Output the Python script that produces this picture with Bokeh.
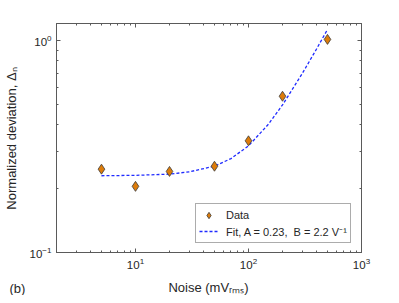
import math
from bokeh.plotting import figure
from bokeh.models import (FixedTicker, LogAxis, Label, Legend, LegendItem,
                          ColumnDataSource, Range1d)
from bokeh.embed import file_html
from bokeh.resources import INLINE

# ---- data ----
noise_mv = [5, 10, 20, 50, 100, 200, 500]
deviation = [0.247, 0.205, 0.241, 0.255, 0.336, 0.545, 1.01]

fit_noise_mv = [5, 10, 20, 30, 50, 70, 100, 150, 200, 300, 400, 500]
fit_deviation = [0.230, 0.231, 0.234, 0.240, 0.255, 0.277, 0.318, 0.402,
                 0.496, 0.699, 0.910, 1.124]

x_major = [10, 100, 1000]
x_minor = [2, 3, 4, 5, 6, 7, 8, 9, 20, 30, 40, 50, 60, 70, 80, 90,
           200, 300, 400, 500, 600, 700, 800, 900]
y_major = [0.1, 1]
y_minor = [0.2, 0.3, 0.4, 0.5, 0.6, 0.7, 0.8, 0.9]

x_label = "Noise (mVᵣₘₛ)"
y_label = "Normalized deviation, Δₙ"
panel_tag = "(b)"
legend_data = "Data"
legend_fit = "Fit, A = 0.23,  B = 2.2 V⁻¹"

FONT = "Liberation Sans"
AX = "#5a5a5a"
TXT = "#262626"

W, H = 391, 295
p = figure(width=W, height=H, x_axis_type="log", y_axis_type="log",
           x_range=Range1d(2, 1000), y_range=Range1d(0.1, 1.2),
           output_backend="svg", toolbar_location=None,
           min_border_left=56, min_border_right=30,
           min_border_top=23, min_border_bottom=43)
p.grid.visible = False
p.outline_line_color = AX
p.background_fill_color = "white"
p.border_fill_color = "white"


def style_axis(ax, show_labels=True):
    ax.axis_line_color = AX
    ax.major_tick_line_color = AX
    ax.minor_tick_line_color = AX
    ax.major_tick_in = 4
    ax.major_tick_out = 0
    ax.minor_tick_in = 2
    ax.minor_tick_out = 0
    ax.major_label_text_font = FONT
    if show_labels:
        ax.major_label_text_color = TXT
        ax.major_label_text_font_size = "11.5px"
        ax.major_label_standoff = 5
    else:
        ax.major_label_text_color = None
        ax.major_label_text_font_size = "4px"
        ax.major_label_standoff = 0


p.xaxis.ticker = FixedTicker(ticks=x_major, minor_ticks=x_minor)
p.yaxis.ticker = FixedTicker(ticks=y_major, minor_ticks=y_minor)
for ax in p.xaxis + p.yaxis:
    style_axis(ax)

top = LogAxis(ticker=FixedTicker(ticks=x_major, minor_ticks=x_minor))
right = LogAxis(ticker=FixedTicker(ticks=y_major, minor_ticks=y_minor))
style_axis(top, False)
style_axis(right, False)
p.add_layout(top, "above")
p.add_layout(right, "right")

fit_src = ColumnDataSource(dict(x=fit_noise_mv, y=fit_deviation))
dat_src = ColumnDataSource(dict(x=noise_mv, y=deviation))

ln = p.line("x", "y", source=fit_src, line_color="#1f2bff", line_width=1.3,
            line_dash="3 2")
sc = p.scatter("x", "y", source=dat_src, marker="diamond", size=10,
               fill_color="#dd7c0a", line_color="#3a3a3a", line_width=0.8)

legend = Legend(items=[LegendItem(label=legend_data, renderers=[sc]),
                       LegendItem(label=legend_fit, renderers=[ln])],
                location=(139, 9), border_line_color=AX, border_line_width=1,
                background_fill_color="white", background_fill_alpha=1,
                label_text_font=FONT, label_text_font_size="11px",
                label_text_color=TXT, padding=3, margin=0, spacing=0,
                glyph_width=19, glyph_height=16, label_height=16,
                label_standoff=8)
p.add_layout(legend, "center")

p.add_layout(Label(x=152, y=-1, x_units="screen", y_units="screen",
                   text=x_label, text_font=FONT, text_font_size="13px",
                   text_color=TXT, text_align="center",
                   text_baseline="alphabetic"), "below")
p.add_layout(Label(x=0, y=114, x_units="screen", y_units="screen",
                   text=y_label, text_font=FONT, text_font_size="13px",
                   text_color=TXT, text_align="center", angle=math.pi / 2,
                   text_baseline="middle"), "left")
p.add_layout(Label(x=-352, y=-36, x_units="screen", y_units="screen",
                   text=panel_tag, text_font=FONT, text_font_size="13px",
                   text_color=TXT, text_align="left",
                   text_baseline="alphabetic"), "right")

open("out.html", "w").write(file_html(p, INLINE))
